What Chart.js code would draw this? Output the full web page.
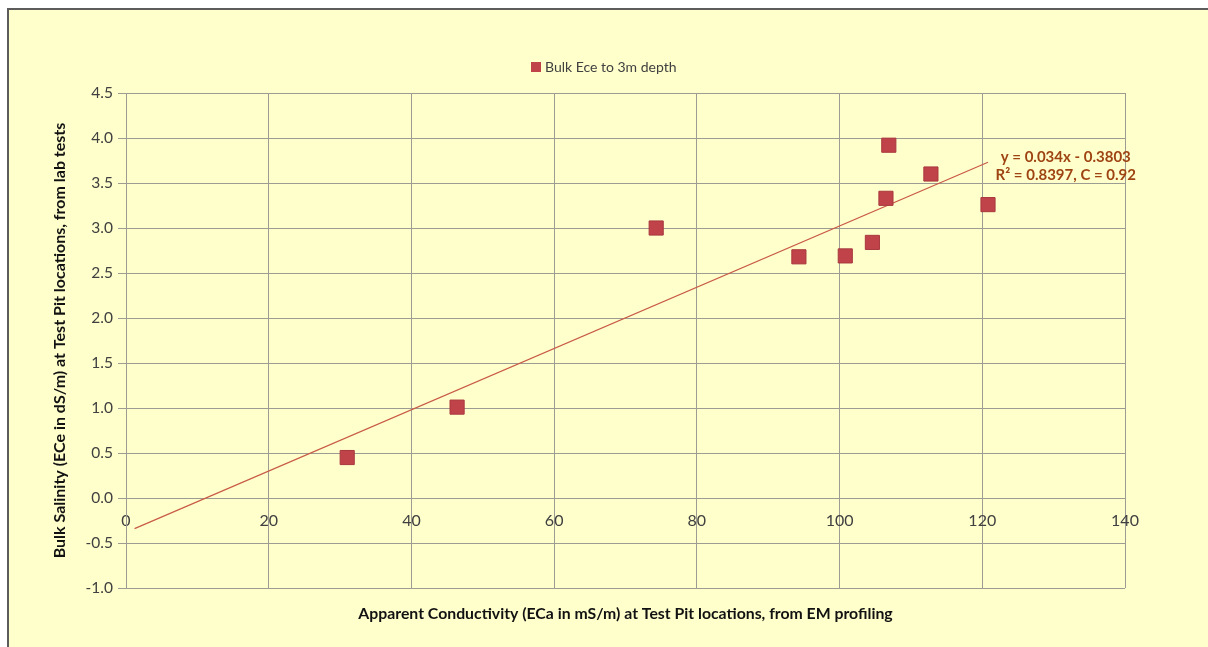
<!DOCTYPE html>
<html>
<head>
<meta charset="utf-8">
<script src="https://cdn.jsdelivr.net/npm/chart.js@4"></script>
<style>
  html, body { margin: 0; padding: 0; background: #ffffff; overflow: hidden; }
  #frame {
    position: absolute; left: 7px; top: 8px; width: 1220px; height: 660px;
    border: 2px solid #5c5c5c; background: #FFFFCC;
  }
  #wrap { position: absolute; left: 0; top: 0; width: 1208px; height: 647px; }
</style>
</head>
<body>
<div id="frame"></div>
<div id="wrap"><canvas id="chart" width="1208" height="647"></canvas></div>
<script>
const conductivity = [31.0, 46.4, 74.3, 94.3, 100.8, 104.6, 106.5, 106.9, 112.8, 120.8];
const salinity = [0.45, 1.01, 3.00, 2.68, 2.69, 2.84, 3.33, 3.92, 3.60, 3.26];

const trendX = [1.2, 120.8];
const trendY = [-0.34, 3.73];

const seriesName = "Bulk Ece to 3m depth";
const equationLines = ["y = 0.034x - 0.3803", "R\u00B2 = 0.8397, C = 0.92"];

const MARKER = "#C0434A";

const ctx = document.querySelector("#chart");

const points = conductivity.map((x, i) => ({ x: x, y: salinity[i] }));
const trend = trendX.map((x, i) => ({ x: x, y: trendY[i] }));

// legend entry above the plot and the trendline equation beside the line end
const annotations = {
  id: "annotations",
  afterDatasetsDraw(chart) {
    const c = chart.ctx;
    const xs = chart.scales.x, ys = chart.scales.y;
    c.save();
    c.fillStyle = MARKER;
    c.fillRect(531, 62, 10, 10);
    c.font = "14px Lato";
    c.fillStyle = "#404040";
    c.textAlign = "left";
    c.textBaseline = "middle";
    c.fillText(seriesName, 545, 67);

    c.font = "bold 15px Lato";
    c.fillStyle = "#9E4412";
    c.textAlign = "center";
    const cx = xs.getPixelForValue(131.7);
    c.fillText(equationLines[0], cx, ys.getPixelForValue(3.786));
    c.fillText(equationLines[1], cx, ys.getPixelForValue(3.586));
    c.restore();
  }
};

new Chart(ctx, {
  type: "scatter",
  data: {
    datasets: [
      {
        label: seriesName,
        data: points,
        pointStyle: "rect",
        pointRadius: 10,
        pointHoverRadius: 10,
        backgroundColor: MARKER,
        borderColor: "#A8383E",
        borderWidth: 1,
      },
      {
        label: "trend",
        type: "line",
        data: trend,
        borderColor: "#C85A46",
        borderWidth: 1.2,
        pointRadius: 0,
        fill: false,
      },
    ],
  },
  options: {
    responsive: false,
    animation: false,
    layout: { padding: { left: 47, right: 83, top: 93, bottom: 8 } },
    plugins: {
      legend: { display: false },
      title: {
        display: true,
        position: "bottom",
        fullSize: false,
        text: "Apparent Conductivity (ECa in mS/m) at Test Pit locations, from EM profiling",
        color: "#111111",
        font: { family: "Lato", size: 15.8, weight: "bold" },
        padding: { top: 16, bottom: 16 },
      },
      tooltip: { enabled: false },
    },
    scales: {
      x: {
        type: "linear",
        min: 0,
        max: 140,
        position: { y: 0 },
        ticks: { stepSize: 20, color: "#404040", padding: 13, font: { family: "Lato", size: 16 } },
        grid: { color: "#9c9c92", lineWidth: 1, drawTicks: false },
        border: { display: true, color: "#9c9c92" },
      },
      y: {
        type: "linear",
        min: -1,
        max: 4.5,
        afterFit(scale) { scale.width = 79; },
        ticks: {
          stepSize: 0.5,
          color: "#404040",
          padding: 5,
          font: { family: "Lato", size: 15.5 },
          callback: (v) => v.toFixed(1),
        },
        grid: { color: "#9c9c92", lineWidth: 1, tickLength: 8 },
        border: { display: true, color: "#9c9c92" },
        title: {
          display: true,
          text: "Bulk Salinity (ECe in dS/m) at Test Pit locations, from lab tests",
          color: "#111111",
          font: { family: "Lato", size: 16, weight: "bold" },
          padding: { top: 3, bottom: 3 },
        },
      },
    },
  },
  plugins: [annotations],
});
</script>
</body>
</html>
